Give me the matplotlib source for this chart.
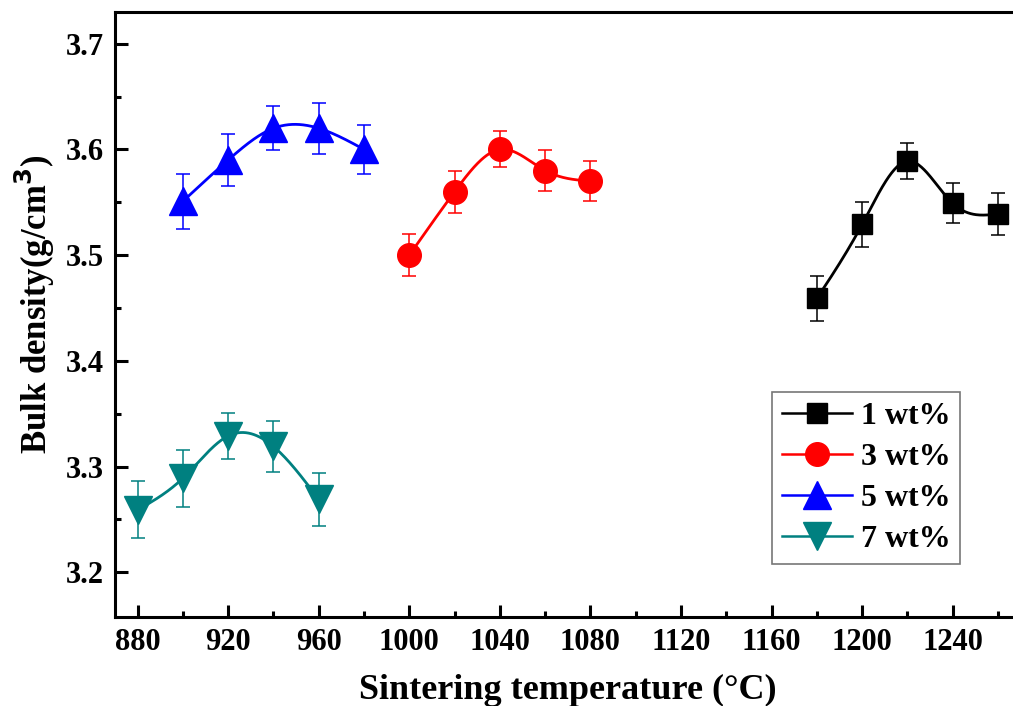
import numpy as np
import matplotlib.pyplot as plt
from matplotlib.ticker import MultipleLocator

# Datos
temp_1 = [1180, 1200, 1220, 1240, 1260]
dens_1 = [3.459, 3.529, 3.589, 3.549, 3.539]
err_1 = [0.021, 0.021, 0.017, 0.019, 0.020]

temp_3 = [1000, 1020, 1040, 1060, 1080]
dens_3 = [3.500, 3.560, 3.600, 3.580, 3.570]
err_3 = [0.020, 0.020, 0.017, 0.019, 0.019]

temp_5 = [900, 920, 940, 960, 980]
dens_5 = [3.551, 3.590, 3.620, 3.620, 3.600]
err_5 = [0.026, 0.025, 0.021, 0.024, 0.023]

temp_7 = [880, 900, 920, 940, 960]
dens_7 = [3.259, 3.289, 3.329, 3.319, 3.269]
err_7 = [0.027, 0.027, 0.022, 0.024, 0.025]

etiquetas = ['1 wt%', '3 wt%', '5 wt%', '7 wt%']


# Spline cubico natural para la linea suave
def spline(x, y, n=200):
    x = np.asarray(x, float)
    y = np.asarray(y, float)
    k = len(x)
    h = np.diff(x)
    A = np.zeros((k, k))
    b = np.zeros(k)
    A[0, 0] = A[-1, -1] = 1
    for i in range(1, k - 1):
        A[i, i - 1] = h[i - 1]
        A[i, i] = 2 * (h[i - 1] + h[i])
        A[i, i + 1] = h[i]
        b[i] = 6 * ((y[i + 1] - y[i]) / h[i] - (y[i] - y[i - 1]) / h[i - 1])
    M = np.linalg.solve(A, b)
    xs = np.linspace(x[0], x[-1], n)
    idx = np.clip(np.searchsorted(x, xs) - 1, 0, k - 2)
    x0, x1 = x[idx], x[idx + 1]
    hh = x1 - x0
    ys = (M[idx] * (x1 - xs) ** 3 / (6 * hh) + M[idx + 1] * (xs - x0) ** 3 / (6 * hh)
          + (y[idx] / hh - M[idx] * hh / 6) * (x1 - xs)
          + (y[idx + 1] / hh - M[idx + 1] * hh / 6) * (xs - x0))
    return xs, ys


plt.rcParams['font.family'] = 'Liberation Serif'
plt.rcParams['font.weight'] = 'bold'

fig = plt.figure(figsize=(10.13, 7.06), dpi=100)
ax = fig.add_axes([0.1135, 0.1265, 0.894, 0.8565])

series = [
    (temp_1, dens_1, err_1, 'black', 's', 15),
    (temp_3, dens_3, err_3, '#ff0000', 'o', 17),
    (temp_5, dens_5, err_5, '#0000ff', '^', 20),
    (temp_7, dens_7, err_7, '#008080', 'v', 20),
]

handles = []
for (t, d, e, c, m, ms), lab in zip(series, etiquetas):
    ax.errorbar(t, d, yerr=e, fmt='none', ecolor=c, elinewidth=1.1,
                capsize=5, capthick=1.1, zorder=2)
    xs, ys = spline(t, d)
    ax.plot(xs, ys, color=c, lw=2.0, zorder=3)
    ax.plot(t, d, ls='none', marker=m, ms=ms, color=c, zorder=4)
    h, = ax.plot([], [], color=c, lw=1.8, marker=m, ms=ms)
    handles.append(h)

ax.set_xlim(870, 1270)
ax.set_ylim(3.158, 3.73)
ax.xaxis.set_major_locator(MultipleLocator(40))
ax.xaxis.set_minor_locator(MultipleLocator(20))
ax.yaxis.set_major_locator(MultipleLocator(0.1))
ax.yaxis.set_minor_locator(MultipleLocator(0.05))
ax.tick_params(which='major', direction='in', length=9, width=2.2,
               labelsize=22, pad=8, top=False, right=False)
ax.tick_params(which='minor', direction='in', length=4.5, width=2.2,
               top=False, right=False)
for s in ax.spines.values():
    s.set_linewidth(2.2)

ax.set_xlabel('Sintering temperature (°C)', fontsize=26, fontweight='bold', labelpad=12)
ax.set_ylabel('Bulk density(g/cm$^\\mathbf{3}$)', fontsize=25, fontweight='bold')
ax.yaxis.set_label_coords(-0.064, 0.517)

leg = ax.legend(handles, etiquetas, loc='upper left', bbox_to_anchor=(0.7255, 0.372),
                fontsize=23, frameon=True, fancybox=False, edgecolor='#555555',
                handlelength=2.2, handletextpad=0.28, labelspacing=0.37,
                borderpad=0.3, borderaxespad=0, numpoints=1)
leg.get_frame().set_linewidth(1.2)
for t in leg.get_texts():
    t.set_fontweight('bold')

plt.savefig('out.png', dpi=100, facecolor='white')
plt.close()
